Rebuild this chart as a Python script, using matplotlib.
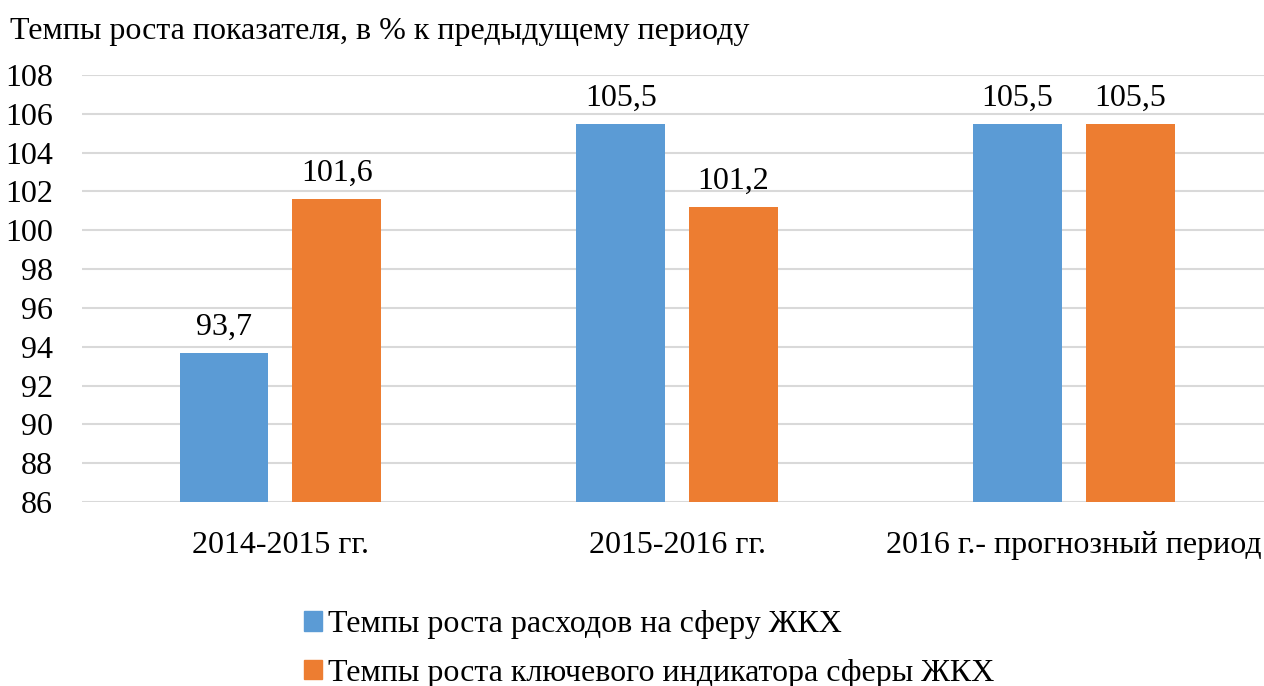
import matplotlib.pyplot as plt
from matplotlib.patches import Patch
import numpy as np

plt.rcParams['font.family'] = ['Liberation Serif', 'DejaVu Serif']

# growth rates, % to previous period
categories = ["2014-2015 гг.", "2015-2016 гг.", "2016 г.- прогнозный период"]
spending = [93.7, 105.5, 105.5]
indicator = [101.6, 101.2, 105.5]
series_names = ["Темпы роста расходов на сферу ЖКХ",
                "Темпы роста ключевого индикатора сферы ЖКХ"]
yticks = list(range(86, 109, 2))

blue = "#5B9BD5"
orange = "#ED7D31"
fs = 23

fig = plt.figure(figsize=(12.64, 6.86), dpi=100)
ax = fig.add_axes([82 / 1264, 184 / 686, 1 - 82 / 1264, 427 / 686])

x = np.arange(len(categories))
w = 0.224
off = 0.142
b1 = ax.bar(x - off, spending, w, color=blue, zorder=2)
b2 = ax.bar(x + off, indicator, w, color=orange, zorder=2)

for bars, vals in ((b1, spending), (b2, indicator)):
    for r, v in zip(bars, vals):
        ax.annotate(f"{v:.1f}".replace(".", ","),
                    (r.get_x() + r.get_width() / 2, v),
                    xytext=(0, 8), textcoords="offset points",
                    ha="center", va="bottom", fontsize=fs)

ax.set_ylim(86, 108)
ax.set_xlim(-0.5, 2.479)
ax.set_yticks(yticks)
ax.set_yticklabels([str(t) for t in yticks], fontsize=fs)
ax.set_xticks(x)
ax.set_xticklabels(categories, fontsize=fs)
ax.tick_params(axis="y", length=0, pad=21)
ax.tick_params(axis="x", length=0, pad=21)
ax.grid(axis="y", color="#D9D9D9", linewidth=1.5, zorder=0)
ax.set_axisbelow(True)
for s in ax.spines.values():
    s.set_visible(False)

fig.text(10 / 1264, 1 - 31 / 686, "Темпы роста показателя, в % к предыдущему периоду",
         fontsize=fs, va="center", ha="left")

handles = [Patch(color=blue), Patch(color=orange)]
fig.legend(handles, series_names, loc="upper left",
           bbox_to_anchor=(282 / 1264, 1 - 588 / 686), frameon=False,
           fontsize=fs, handlelength=0.55, handleheight=0.55,
           handletextpad=0.2, labelspacing=0.6, borderpad=0.2)

fig.savefig("out.png", dpi=100)
